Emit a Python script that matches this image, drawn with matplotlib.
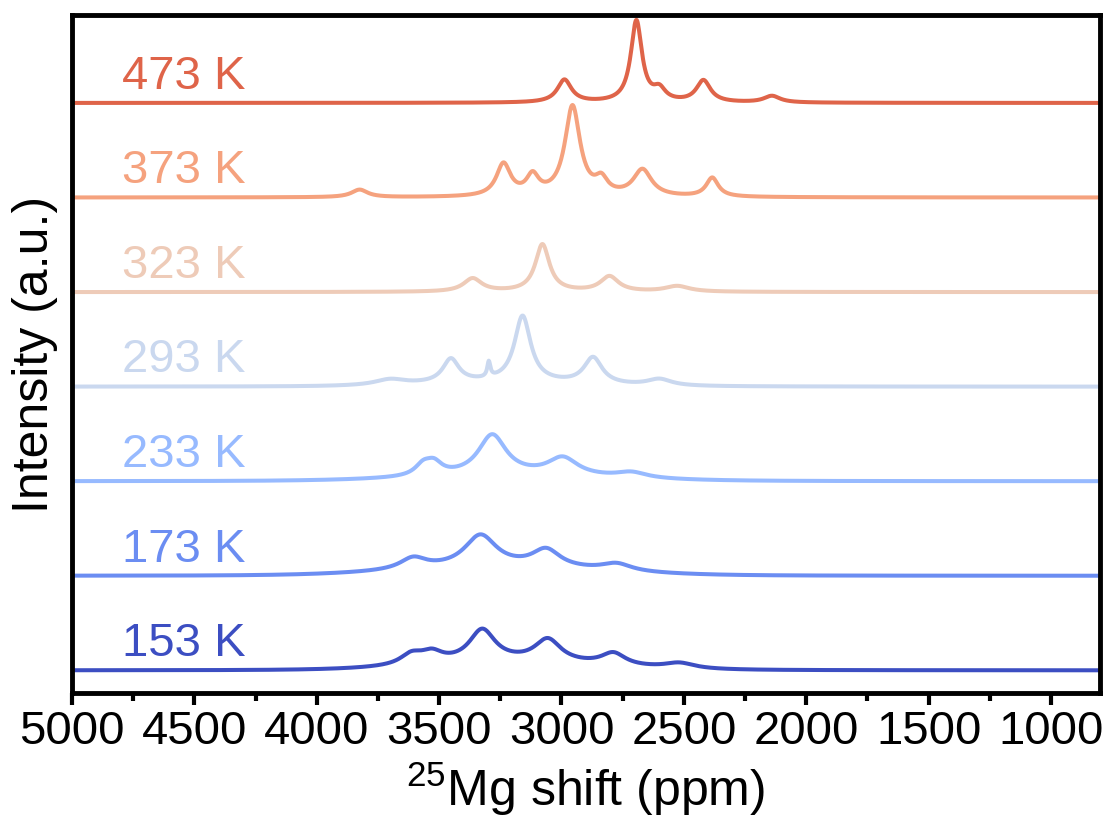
import numpy as np
import matplotlib
matplotlib.use("Agg")
import matplotlib.pyplot as plt

plt.rcParams['font.family'] = ['Liberation Sans', 'DejaVu Sans']
plt.rcParams['mathtext.fontset'] = 'custom'
plt.rcParams['mathtext.rm'] = 'Liberation Sans'

# temperatures, bottom trace first
temps = [153, 173, 233, 293, 323, 373, 473]
colors = ['#3C4EC2', '#6B8DF2', '#97BAFF', '#CAD8EF', '#EECBB8', '#F5A27E', '#DF6449']

# resolved peaks of each spectrum: shift (ppm), height (a.u.), FWHM (ppm)
peak_centers = [
    [3613, 3530, 3324, 3056, 2788, 2518],
    [3606, 3331, 3063, 2775],
    [3565, 3521, 3283, 2995, 2714],
    [3700, 3452, 3297, 3159, 2871, 2600],
    [3363, 3078, 2804, 2527],
    [3825, 3237, 3118, 2955, 2837, 2669, 2384],
    [2988, 2694, 2600, 2420, 2140],
]
peak_heights = [
    [0.11, 0.11, 0.34, 0.24, 0.13, 0.06],
    [0.12, 0.34, 0.19, 0.08],
    [0.11, 0.12, 0.43, 0.19, 0.06],
    [0.06, 0.25, 0.16, 0.70, 0.28, 0.07],
    [0.14, 0.50, 0.16, 0.06],
    [0.08, 0.34, 0.20, 0.95, 0.15, 0.28, 0.20],
    [0.24, 0.86, 0.12, 0.23, 0.07],
]
peak_widths = [
    [110, 110, 130, 130, 120, 150],
    [130, 160, 140, 150],
    [80, 80, 140, 150, 150],
    [150, 80, 15, 80, 90, 120],
    [90, 70, 90, 120],
    [80, 70, 60, 75, 60, 90, 60],
    [70, 55, 60, 70, 80],
]
# broad underlying component: centre (ppm), height, sigma (ppm)
hump_center = [3200, 3250, 3200, 3250, 3100, 3000, 2700]
hump_height = [0.08, 0.08, 0.05, 0.04, 0.0, 0.0, 0.0]
hump_sigma = [350, 400, 400, 300, 300, 300, 300]

shift = np.linspace(5000, 800, 2100)


def spectrum(i):
    y = hump_height[i] * np.exp(-0.5 * ((shift - hump_center[i]) / hump_sigma[i]) ** 2)
    for c, h, w in zip(peak_centers[i], peak_heights[i], peak_widths[i]):
        y = y + h / (1 + ((shift - c) / (w / 2)) ** 2)
    return y


fig = plt.figure(figsize=(11.1, 8.33), dpi=100)
ax = fig.add_axes([0.0649, 0.168, 0.926, 0.814])

for i, t in enumerate(temps):
    ax.plot(shift, spectrum(i) + i, color=colors[i], lw=2.9)
    ax.text(4795, i + 0.15, f'{t} K', color=colors[i], fontsize=34,
            ha='left', va='baseline')

ax.set_xlim(5000, 800)
ax.set_ylim(-0.24, 6.93)
ax.set_xticks(np.arange(5000, 999, -500))
ax.set_xticks(np.arange(4750, 800, -500), minor=True)
ax.set_yticks([])
ax.tick_params(axis='x', which='major', direction='out', length=8.5, width=3,
               labelsize=34, pad=4)
ax.tick_params(axis='x', which='minor', direction='out', length=6, width=3)
for s in ax.spines.values():
    s.set_linewidth(3.5)

ax.set_xlabel(r'$^{25}$Mg shift (ppm)', fontsize=36, labelpad=4)
ax.set_ylabel('Intensity (a.u.)', fontsize=36, labelpad=10)

fig.savefig('out.png', dpi=100)
